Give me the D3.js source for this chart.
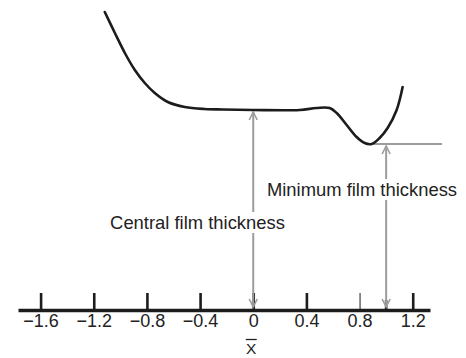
<!DOCTYPE html>
<html>
<head>
<meta charset="utf-8">
<script src="https://cdn.jsdelivr.net/npm/d3@7"></script>
<style>
  html, body { margin: 0; padding: 0; background: #fff; }
  svg { display: block; font-family: "Liberation Sans", Arial, Helvetica, sans-serif; }
</style>
</head>
<body>
<svg id="chart" width="466" height="358"></svg>
<script>
// Film thickness profile h along the dimensionless coordinate X̄
const profileX = [-1.117, -1.041, -0.966, -0.891, -0.816, -0.741, -0.643, -0.515, -0.365, -0.229, 0,
                  0.350, 0.477, 0.575, 0.628, 0.703, 0.778, 0.838, 0.891, 0.951, 1.011, 1.079, 1.124];
const profileH = [2.98, 2.77, 2.57, 2.40, 2.27, 2.17, 2.08, 2.03, 2.01, 2.005, 2.0,
                  2.0, 2.02, 2.02, 1.97, 1.85, 1.73, 1.67, 1.66, 1.72, 1.82, 2.00, 2.23];

// Axis ticks
const tickValues = [-1.6, -1.2, -0.8, -0.4, 0, 0.4, 0.8, 1.2];
const thinTicks = [0.8];
const axisExtent = [-1.77, 1.33];

// Annotated thicknesses
const centralX = 0, centralH = 2.0;
const minX = 1.0, minH = 1.66;
const minLineExtent = [0.89, 1.42];
const centralLabel = "Central film thickness";
const minLabel = "Minimum film thickness";
const axisTitle = "X";

const svg = d3.select("#chart");

const x = d3.scaleLinear().domain(axisExtent).range([18, 430]);
const y = d3.scaleLinear().domain([0, 3]).range([310, 10]);

const ink = "#1c1c1c";
const grey = "#9c9c9c";

// Open chevron arrowhead
svg.append("defs").append("marker")
  .attr("id", "head")
  .attr("viewBox", "-9 -6 11 12")
  .attr("refX", 0).attr("refY", 0)
  .attr("markerWidth", 11).attr("markerHeight", 12)
  .attr("markerUnits", "userSpaceOnUse")
  .attr("orient", "auto-start-reverse")
  .append("path")
  .attr("d", "M-8,-4 L0,0 L-8,4")
  .attr("fill", "none")
  .attr("stroke", grey)
  .attr("stroke-width", 1.6);

// Axis along h = 0
const axis = d3.axisBottom(x)
  .tickValues(tickValues)
  .tickSizeInner(-17)
  .tickSizeOuter(0)
  .tickPadding(4)
  .tickFormat(d => d === 0 ? "0" : d3.format(".1f")(d));

const gAxis = svg.append("g")
  .attr("transform", `translate(0,${y(0)})`)
  .call(axis);

gAxis.select(".domain").attr("stroke", ink).attr("stroke-width", 3.5);
gAxis.selectAll(".tick line")
  .attr("stroke", ink)
  .attr("stroke-width", d => thinTicks.includes(d) ? 1 : 2.6);
gAxis.selectAll(".tick text")
  .attr("fill", "#222")
  .attr("font-size", 18)
  .attr("font-family", "Liberation Sans, Arial, sans-serif");

// short mark under the minimum-thickness arrow
svg.append("line")
  .attr("x1", x(minX)).attr("x2", x(minX))
  .attr("y1", y(0) - 10).attr("y2", y(0))
  .attr("stroke", ink).attr("stroke-width", 2.6);

// Axis title with overbar
svg.append("text")
  .attr("x", x(0) - 2).attr("y", 354)
  .attr("text-anchor", "middle")
  .attr("font-size", 15.5)
  .attr("fill", "#222")
  .text(axisTitle);
svg.append("line")
  .attr("x1", x(0) - 7.5).attr("x2", x(0) + 3.5)
  .attr("y1", 339.5).attr("y2", 339.5)
  .attr("stroke", "#222").attr("stroke-width", 1.3);

// Horizontal reference at minimum thickness
svg.append("line")
  .attr("x1", x(minLineExtent[0])).attr("x2", x(minLineExtent[1]))
  .attr("y1", y(minH)).attr("y2", y(minH))
  .attr("stroke", grey).attr("stroke-width", 2);

// Double-headed dimension arrows
function dimArrow(xv, hv) {
  svg.append("line")
    .attr("x1", x(xv)).attr("x2", x(xv))
    .attr("y1", y(hv) + 2).attr("y2", y(0) - 3)
    .attr("stroke", grey).attr("stroke-width", 2)
    .attr("marker-start", "url(#head)")
    .attr("marker-end", "url(#head)");
}
dimArrow(centralX, centralH);
dimArrow(minX, minH);

// Film profile
const line = d3.line()
  .x((d, i) => x(profileX[i]))
  .y(d => y(d))
  .curve(d3.curveCatmullRom.alpha(0.5));

svg.append("path")
  .datum(profileH)
  .attr("d", line)
  .attr("fill", "none")
  .attr("stroke", ink)
  .attr("stroke-width", 2.6)
  .attr("stroke-linecap", "round")
  .attr("stroke-linejoin", "round");

// Labels on white backing
function label(text, cx, baseline) {
  const g = svg.append("g");
  const t = g.append("text")
    .attr("x", cx).attr("y", baseline)
    .attr("text-anchor", "middle")
    .attr("font-size", 18.4)
    .attr("fill", "#222")
    .text(text);
  const b = t.node().getBBox();
  g.insert("rect", "text")
    .attr("x", b.x - 2).attr("y", b.y)
    .attr("width", b.width + 4).attr("height", b.height)
    .attr("fill", "#fff");
}
label(centralLabel, 197.5, 229);
label(minLabel, 362, 196);
</script>
</body>
</html>
